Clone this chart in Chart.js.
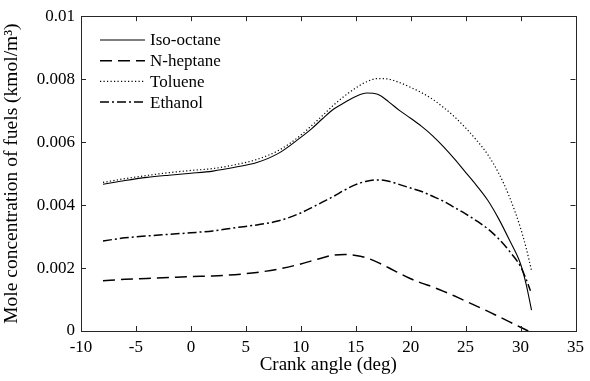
<!DOCTYPE html>
<html>
<head>
<meta charset="utf-8">
<script src="https://cdn.jsdelivr.net/npm/chart.js@4.4.0/dist/chart.umd.min.js"></script>
<style>
  html, body { margin: 0; padding: 0; background: #fff; }
  #wrap { width: 590px; height: 381px; }
</style>
</head>
<body>
<div id="wrap"><canvas id="fuelChart" width="590" height="381"></canvas></div>
<script>
// crank angle (deg) for each series
const isoAngles = [-8, -6, -4, -2, 0, 2, 4, 6, 8, 10, 11, 12, 13, 14, 15, 16, 17, 18, 19, 20, 21, 22, 23, 24, 25, 26, 27, 28, 29, 30, 30.5, 31];
const isoOctane = [0.00466, 0.00478, 0.00488, 0.00495, 0.00501, 0.00508, 0.00520, 0.00535, 0.00565, 0.00615, 0.00643, 0.00675, 0.00705, 0.00726, 0.00745, 0.00756, 0.00752, 0.00728, 0.00700, 0.00676, 0.00650, 0.00620, 0.00585, 0.00546, 0.00504, 0.00462, 0.00416, 0.00357, 0.00288, 0.00213, 0.00150, 0.00066];

const tolAngles = [-8, -6, -4, -2, 0, 2, 4, 6, 8, 10, 11, 12, 13, 14, 15, 16, 17, 18, 19, 20, 21, 22, 23, 24, 25, 26, 27, 28, 29, 30, 30.5, 31];
const toluene = [0.00472, 0.00484, 0.00494, 0.00503, 0.00510, 0.00516, 0.00528, 0.00545, 0.00574, 0.00622, 0.00653, 0.00685, 0.00718, 0.00747, 0.00772, 0.00792, 0.00802, 0.00800, 0.00789, 0.00774, 0.00757, 0.00736, 0.00710, 0.00680, 0.00645, 0.00606, 0.00561, 0.00502, 0.00425, 0.00327, 0.00265, 0.00192];

const ethAngles = [-8, -6, -4, -2, 0, 2, 4, 6, 8, 10, 11, 12, 13, 14, 15, 16, 17, 18, 19, 20, 21, 22, 23, 24, 25, 26, 27, 28, 29, 30, 30.5, 30.9];
const ethanol = [0.00286, 0.00296, 0.00302, 0.00307, 0.00312, 0.00318, 0.00328, 0.00337, 0.00350, 0.00375, 0.00392, 0.00410, 0.00428, 0.00448, 0.00465, 0.00476, 0.00480, 0.00476, 0.00465, 0.00454, 0.00443, 0.00428, 0.00412, 0.00392, 0.00372, 0.00350, 0.00325, 0.00293, 0.00253, 0.00205, 0.00165, 0.00128];

const hepAngles = [-8, -6, -4, -2, 0, 2, 4, 6, 8, 10, 11, 12, 13, 14, 15, 16, 17, 18, 19, 20, 21, 22, 23, 24, 25, 26, 27, 28, 29, 30, 30.7];
const nHeptane = [0.00160, 0.00164, 0.00167, 0.00170, 0.00173, 0.00175, 0.00179, 0.00186, 0.00197, 0.00213, 0.00223, 0.00233, 0.00241, 0.00243, 0.00240, 0.00232, 0.00218, 0.00201, 0.00183, 0.00166, 0.00152, 0.00140, 0.00126, 0.00111, 0.00095, 0.00079, 0.00063, 0.00046, 0.00029, 0.00012, 0.0];

const xTickLabels = ['-10', '-5', '0', '5', '10', '15', '20', '25', '30', '35'];
const yTickLabels = ['0', '0.002', '0.004', '0.006', '0.008', '0.01'];

const FONT = "'Liberation Serif', 'Times New Roman', serif";

function toPoints(xs, ys) {
    return xs.map((x, i) => ({ x: x, y: ys[i] }));
}

// box, inward ticks and legend inside the plot
const frameAndLegend = {
    id: 'frameAndLegend',
    afterDraw(chart) {
        const ctx = chart.ctx;
        const area = chart.chartArea;
        const xs = chart.scales.x;
        const ys = chart.scales.y;
        ctx.save();
        ctx.strokeStyle = '#262626';
        ctx.lineWidth = 1;
        ctx.strokeRect(Math.round(area.left) + 0.5, Math.round(area.top) + 0.5,
            Math.round(area.right - area.left), Math.round(area.bottom - area.top));
        ctx.beginPath();
        xs.ticks.forEach(t => {
            const px = Math.round(xs.getPixelForValue(t.value)) + 0.5;
            ctx.moveTo(px, area.bottom); ctx.lineTo(px, area.bottom - 5);
            ctx.moveTo(px, area.top); ctx.lineTo(px, area.top + 5);
        });
        ys.ticks.forEach(t => {
            const py = Math.round(ys.getPixelForValue(t.value)) + 0.5;
            ctx.moveTo(area.left, py); ctx.lineTo(area.left + 5, py);
            ctx.moveTo(area.right, py); ctx.lineTo(area.right - 5, py);
        });
        ctx.stroke();

        // legend
        ctx.font = '17px ' + FONT;
        ctx.textBaseline = 'middle';
        ctx.fillStyle = '#000';
        chart.data.datasets.forEach((ds, i) => {
            const y = 40 + i * 20.7;
            ctx.beginPath();
            ctx.strokeStyle = '#000';
            ctx.lineWidth = ds.borderWidth;
            ctx.setLineDash(ds.borderDash || []);
            ctx.moveTo(100, y); ctx.lineTo(145, y);
            ctx.stroke();
            ctx.setLineDash([]);
            ctx.fillText(ds.label, 150, y + 1);
        });
        ctx.restore();
    }
};

const ctx = document.getElementById('fuelChart').getContext('2d');
new Chart(ctx, {
    type: 'line',
    data: {
        datasets: [{
            label: 'Iso-octane',
            data: toPoints(isoAngles, isoOctane),
            borderColor: '#000',
            borderWidth: 1.1,
            borderDash: []
        }, {
            label: 'N-heptane',
            data: toPoints(hepAngles, nHeptane),
            borderColor: '#000',
            borderWidth: 1.5,
            borderDash: [12, 6]
        }, {
            label: 'Toluene',
            data: toPoints(tolAngles, toluene),
            borderColor: '#000',
            borderWidth: 1.2,
            borderDash: [1.2, 2.3]
        }, {
            label: 'Ethanol',
            data: toPoints(ethAngles, ethanol),
            borderColor: '#000',
            borderWidth: 1.5,
            borderDash: [9, 3, 2, 3]
        }]
    },
    options: {
        responsive: false,
        animation: false,
        devicePixelRatio: 1,
        layout: { padding: { left: 0, right: 11, top: 13, bottom: 0 } },
        elements: {
            point: { radius: 0 },
            line: { cubicInterpolationMode: 'monotone', fill: false }
        },
        plugins: {
            legend: { display: false },
            tooltip: { enabled: false }
        },
        scales: {
            x: {
                type: 'linear',
                min: -10,
                max: 35,
                afterFit: s => { s.height = 50; },
                grid: { display: false, drawTicks: false },
                border: { display: false },
                ticks: {
                    stepSize: 5,
                    padding: 6,
                    color: '#000',
                    maxRotation: 0,
                    font: { family: FONT, size: 17 },
                    callback: (v, i) => xTickLabels[i]
                },
                title: {
                    display: true,
                    text: 'Crank angle (deg)',
                    color: '#000',
                    font: { family: FONT, size: 19 },
                    padding: { top: 0, bottom: 5 }
                }
            },
            y: {
                min: 0,
                max: 0.01,
                afterFit: s => { s.width = 81; },
                grid: { display: false, drawTicks: false },
                border: { display: false },
                ticks: {
                    stepSize: 0.002,
                    padding: 6,
                    color: '#000',
                    font: { family: FONT, size: 17 },
                    callback: (v, i) => yTickLabels[i]
                },
                title: {
                    display: true,
                    text: 'Mole concentration of fuels (kmol/m³)',
                    color: '#000',
                    font: { family: FONT, size: 19.5 },
                    padding: { top: 0, bottom: 0 }
                }
            }
        }
    },
    plugins: [frameAndLegend]
});
</script>
</body>
</html>
